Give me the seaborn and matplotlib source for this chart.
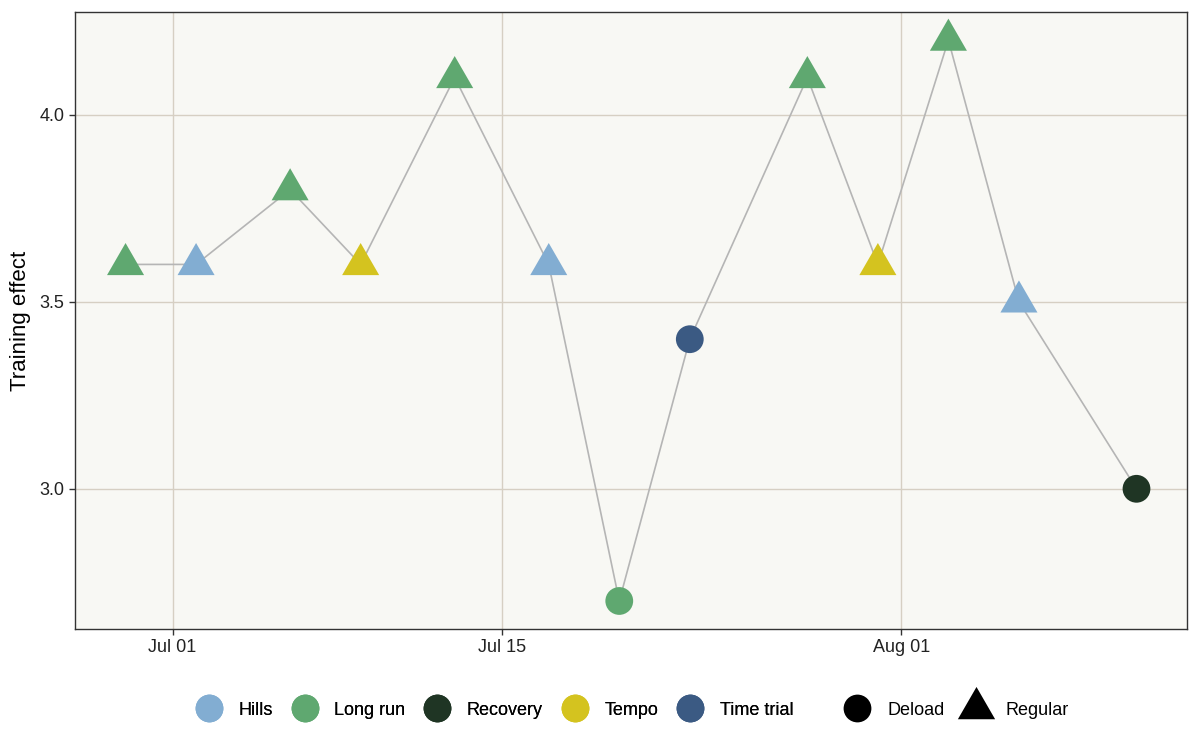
import matplotlib
matplotlib.use("Agg")
import numpy as np
import pandas as pd
import matplotlib.pyplot as plt
import matplotlib.dates as mdates
from matplotlib.lines import Line2D
import seaborn as sns

# ── Data ──────────────────────────────────────────────────────────────────────
dates = ["2024-06-29", "2024-07-02", "2024-07-06", "2024-07-09", "2024-07-13",
         "2024-07-17", "2024-07-20", "2024-07-23", "2024-07-28", "2024-07-31",
         "2024-08-03", "2024-08-06", "2024-08-11"]
effect = [3.6, 3.6, 3.8, 3.6, 4.1, 3.6, 2.7, 3.4, 4.1, 3.6, 4.2, 3.5, 3.0]
workout = ["Long run", "Hills", "Long run", "Tempo", "Long run", "Hills", "Long run",
           "Time trial", "Long run", "Tempo", "Long run", "Hills", "Recovery"]
phase = ["Regular", "Regular", "Regular", "Regular", "Regular", "Regular", "Deload",
         "Deload", "Regular", "Regular", "Regular", "Regular", "Deload"]

workout_order = ["Hills", "Long run", "Recovery", "Tempo", "Time trial"]
workout_colors = ["#82ADD2", "#5FA870", "#1F3524", "#D4C31F", "#3B5A83"]
phase_order = ["Deload", "Regular"]

x_tick_dates = ["2024-07-01", "2024-07-15", "2024-08-01"]
x_tick_labels = ["Jul 01", "Jul 15", "Aug 01"]
y_ticks = [3.0, 3.5, 4.0]

df = pd.DataFrame({"date": pd.to_datetime(dates), "effect": effect,
                   "workout": workout, "phase": phase})

# equilateral triangle centred on its centroid (ggplot shape 17)
TRI = [(-1, -0.577), (1, -0.577), (0, 1.155)]

sns.set_theme(style="white")
plt.rcParams["font.family"] = ["Liberation Sans", "DejaVu Sans"]

fig = plt.figure(figsize=(12, 7.5), dpi=100)
ax = fig.add_axes([0.0625, 0.1613, 0.9267, 0.8227])
ax.set_facecolor("#F8F8F4")

sns.lineplot(data=df, x="date", y="effect", color="#B5B5B5", linewidth=1.2,
             ax=ax, zorder=2)
sns.scatterplot(data=df, x="date", y="effect", hue="workout", style="phase",
                hue_order=workout_order, palette=dict(zip(workout_order, workout_colors)),
                style_order=phase_order, markers={"Deload": "o", "Regular": TRI},
                size="phase", sizes={"Deload": 400, "Regular": 950},
                linewidth=0, ax=ax, zorder=3, legend=False)

# axis ranges with 5% expansion
dnum = mdates.date2num(df["date"])
dx = (dnum.max() - dnum.min()) * 0.05
ax.set_xlim(dnum.min() - dx, dnum.max() + dx)
dy = (max(effect) - min(effect)) * 0.05
ax.set_ylim(min(effect) - dy, max(effect) + dy)

ax.set_xticks(mdates.date2num(pd.to_datetime(x_tick_dates)))
ax.set_xticklabels(x_tick_labels)
ax.set_yticks(y_ticks)
ax.set_yticklabels([f"{v:.1f}" for v in y_ticks])
ax.grid(True, color="#D6CFC3", linewidth=1.0, zorder=0)
ax.set_axisbelow(True)
ax.tick_params(axis="both", which="major", length=4, width=1, color="#333333",
               labelsize=13, labelcolor="#222222", direction="out",
               bottom=True, left=True, pad=3.5)
for s in ax.spines.values():
    s.set_color("#333333")
    s.set_linewidth(1.0)
ax.set_xlabel("")
ax.set_ylabel("Training effect", fontsize=16, color="#000000", labelpad=6.5)

# ── Legends ──────────────────────────────────────────────────────────────────
h1 = [Line2D([], [], linestyle="", marker="o", markersize=20, markeredgewidth=0,
             color=c, label=w) for w, c in zip(workout_order, workout_colors)]
h2 = [Line2D([], [], linestyle="", marker="o", markersize=20, markeredgewidth=0,
             color="black", label="Deload"),
      Line2D([], [], linestyle="", marker=TRI, markersize=31, markeredgewidth=0,
             color="black", label="Regular")]
leg_kw = dict(frameon=False, fontsize=13, handletextpad=0.85, columnspacing=0.95,
              handlelength=1.6, borderpad=0, borderaxespad=0, labelcolor="#000000")
leg1 = fig.legend(handles=h1, loc="center right", bbox_to_anchor=(0.661, 0.0533),
                  ncol=5, **leg_kw)
fig.add_artist(leg1)
fig.legend(handles=h2, loc="center left", bbox_to_anchor=(0.7025, 0.0533),
           ncol=2, **leg_kw)

fig.savefig("out.png", dpi=100)
